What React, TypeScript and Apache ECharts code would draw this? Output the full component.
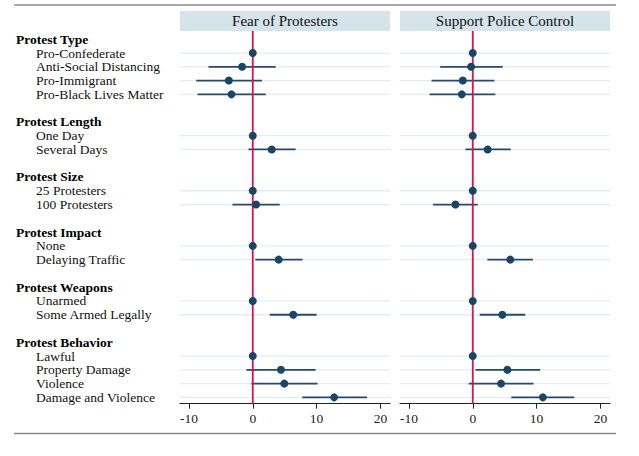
import React, { useEffect, useRef } from "react";
import * as echarts from "echarts";

const groupTitles = ["Protest Type", "Protest Length", "Protest Size", "Protest Impact", "Protest Weapons", "Protest Behavior"];
const groupItems = [
  ["Pro-Confederate", "Anti-Social Distancing", "Pro-Immigrant", "Pro-Black Lives Matter"],
  ["One Day", "Several Days"],
  ["25 Protesters", "100 Protesters"],
  ["None", "Delaying Traffic"],
  ["Unarmed", "Some Armed Legally"],
  ["Lawful", "Property Damage", "Violence", "Damage and Violence"],
];
const panelTitles = ["Fear of Protesters", "Support Police Control"];

const fearEst = [0, -1.67, -3.75, -3.34, 0, 2.97, 0, 0.52, 0, 4.06, 0, 6.34, 0, 4.42, 4.94, 12.75];
const fearLo = [0, -6.94, -8.86, -8.66, 0, -0.68, 0, -3.18, 0, 0.41, 0, 2.66, 0, -1.0, -0.22, 7.75];
const fearHi = [0, 3.59, 1.45, 2.03, 0, 6.72, 0, 4.22, 0, 7.81, 0, 10.0, 0, 9.84, 10.16, 17.9];
const policeEst = [0, -0.26, -1.56, -1.72, 0, 2.34, 0, -2.71, 0, 5.88, 0, 4.63, 0, 5.42, 4.43, 10.99];
const policeLo = [0, -5.1, -6.46, -6.77, 0, -1.15, 0, -6.25, 0, 2.29, 0, 1.09, 0, 0.42, -0.63, 6.04];
const policeHi = [0, 4.69, 3.39, 3.54, 0, 5.94, 0, 0.78, 0, 9.43, 0, 8.23, 0, 10.57, 9.53, 15.89];

const xTicks = [-10, 0, 10, 20];

const FONT = "Liberation Serif, Times New Roman, serif";

export default function App() {
  const ref = useRef<HTMLDivElement>(null);
  useEffect(() => {
    document.body.style.margin = "0";
    if (!ref.current) return;
    const chart = echarts.init(ref.current, null, { renderer: "svg" });

    const rowText: Record<number, string> = {};
    const headerRows: number[] = [];
    const itemRows: number[] = [];
    let r = 0;
    groupTitles.forEach((t, gi) => {
      rowText[r] = t;
      headerRows.push(r);
      r++;
      groupItems[gi].forEach((it) => {
        rowText[r] = it;
        itemRows.push(r);
        r++;
      });
      r++;
    });
    const Y_MIN = -0.6;
    const Y_MAX = 26.46;
    // dummy first/last entries absorb the min/max label overlap handling
    const labelRows = [Y_MIN + 0.05, ...Object.keys(rowText).map(Number), Y_MAX - 0.05];

    const panels = [
      { est: fearEst, lo: fearLo, hi: fearHi },
      { est: policeEst, lo: policeLo, hi: policeHi },
    ];
    const lefts = [180, 400];
    const W = 210;
    const TOP = 31;
    const H = 372.7;

    const series: any[] = [];
    panels.forEach((p, pi) => {
      series.push({
        type: "custom",
        xAxisIndex: pi,
        yAxisIndex: pi,
        z: 1,
        silent: true,
        data: itemRows.map((row) => [0, row]),
        renderItem: (params: any, api: any) => {
          const cs = params.coordSys;
          const y = api.coord([0, api.value(1)])[1];
          return {
            type: "line",
            shape: { x1: cs.x, y1: y, x2: cs.x + cs.width, y2: y },
            style: { stroke: "#e3edf1", lineWidth: 1.3 },
          };
        },
      });
      series.push({
        type: "custom",
        xAxisIndex: pi,
        yAxisIndex: pi,
        z: 2,
        silent: true,
        encode: { x: [0, 1], y: 2 },
        data: itemRows
          .map((row, i) => [p.lo[i], p.hi[i], row])
          .filter((d) => d[0] !== d[1]),
        renderItem: (params: any, api: any) => {
          const a = api.coord([api.value(0), api.value(2)]);
          const b = api.coord([api.value(1), api.value(2)]);
          return {
            type: "line",
            shape: { x1: a[0], y1: a[1], x2: b[0], y2: b[1] },
            style: { stroke: "#27496a", lineWidth: 1.8 },
          };
        },
      });
      series.push({
        type: "custom",
        xAxisIndex: pi,
        yAxisIndex: pi,
        z: 3,
        silent: true,
        data: [[0, 0]],
        renderItem: (params: any, api: any) => {
          const cs = params.coordSys;
          const x = api.coord([0, 0])[0];
          return {
            type: "line",
            shape: { x1: x, y1: cs.y, x2: x, y2: cs.y + cs.height },
            style: { stroke: "#d3154b", lineWidth: 1.8 },
          };
        },
      });
      series.push({
        type: "scatter",
        xAxisIndex: pi,
        yAxisIndex: pi,
        z: 4,
        symbolSize: 8,
        itemStyle: { color: "#1a4566", opacity: 1 },
        data: itemRows.map((row, i) => [p.est[i], row]),
      });
    });

    const option: any = {
      animation: false,
      backgroundColor: "#ffffff",
      textStyle: { fontFamily: FONT },
      grid: lefts.map((l) => ({ left: l, top: TOP, width: W, height: H, containLabel: false })),
      xAxis: lefts.map((_, i) => ({
        type: "value",
        gridIndex: i,
        min: -11.4,
        max: 21.5,
        axisLine: { show: true, onZero: false, lineStyle: { color: "#222", width: 1.2 } },
        axisTick: { show: true, customValues: xTicks, length: 5, lineStyle: { color: "#222", width: 1 } },
        axisLabel: {
          show: true,
          customValues: xTicks,
          margin: 8,
          fontFamily: FONT,
          fontSize: 13.5,
          color: "#222",
        },
        splitLine: { show: false },
      })),
      yAxis: lefts.map((_, i) => ({
        type: "value",
        gridIndex: i,
        inverse: true,
        min: Y_MIN,
        max: Y_MAX,
        axisLine: { show: false },
        axisTick: { show: false },
        splitLine: { show: false },
        axisLabel: {
          show: i === 0,
          customValues: labelRows,
          showMinLabel: false,
          showMaxLabel: false,
          hideOverlap: false,
          align: "left",
          margin: 164,
          fontFamily: FONT,
          fontSize: 13.5,
          formatter: (v: number) => {
            const k = Math.round(v);
            if (Math.abs(v - k) > 0.01) return "";
            const t = rowText[k] || "";
            return headerRows.includes(k) ? `{h|${t}}` : `{i|${t}}`;
          },
          rich: {
            h: { fontFamily: FONT, fontSize: 13.5, fontWeight: "bold", color: "#000" },
            i: { fontFamily: FONT, fontSize: 13.5, color: "#111", padding: [0, 0, 0, 20] },
          },
        },
      })),
      graphic: [
        { type: "line", shape: { x1: 14, y1: 5, x2: 616, y2: 5 }, style: { stroke: "#555", lineWidth: 1.2 } },
        { type: "line", shape: { x1: 14, y1: 433.5, x2: 616, y2: 433.5 }, style: { stroke: "#8a8a8a", lineWidth: 1.5 } },
        ...lefts.flatMap((l, i) => [
          { type: "rect", shape: { x: l, y: 11, width: W, height: 20 }, style: { fill: "#d5e3ea" } },
          {
            type: "text",
            x: l + W / 2,
            y: 21,
            style: {
              text: panelTitles[i],
              fontFamily: FONT,
              fontSize: 15,
              fill: "#111",
              textAlign: "center",
              textVerticalAlign: "middle",
            },
          },
        ]),
      ],
      series,
    };
    chart.setOption(option);
    return () => chart.dispose();
  }, []);
  return <div ref={ref} style={{ width: 639, height: 456 }} />;
}
